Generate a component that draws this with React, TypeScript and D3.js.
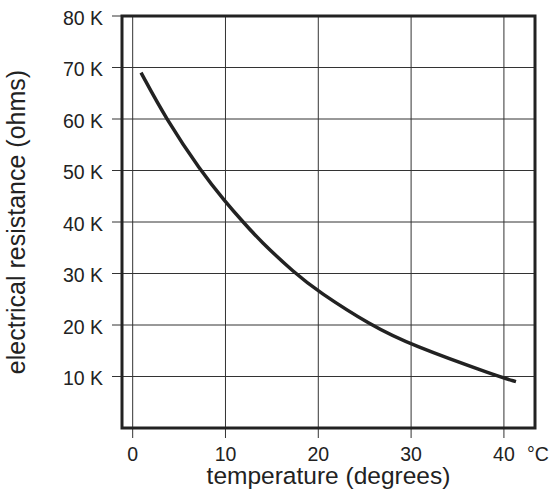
import React from 'react';
import * as d3 from 'd3';

// readings taken off the curve (temperature in °C, resistance in ohms)
const temps = [0.9, 3.6, 7.3, 10, 11.9, 13.7, 17.5, 20, 25.6, 30, 39.4, 41.3];
const ohms = [69000, 60000, 50000, 43900, 40000, 36400, 30000, 26500, 20000, 16100, 10000, 9000];

const xTicks = [0, 10, 20, 30, 40];
const yTicks = [10000, 20000, 30000, 40000, 50000, 60000, 70000, 80000];

const W = 553;
const H = 493;
const LEFT = 122;
const RIGHT = 535;
const TOP = 16;
const BOTTOM = 428;
const FONT = 'Arial, "Liberation Sans", Helvetica, sans-serif';
const INK = '#222';

const App = () => {
  const xScale = d3.scaleLinear().domain([-1.15, 43.35]).range([LEFT, RIGHT]);
  const yScale = d3.scaleLinear().domain([0, 80000]).range([BOTTOM, TOP]);

  const line = d3.line<number>()
    .x((d, i) => xScale(temps[i]))
    .y(d => yScale(d))
    .curve(d3.curveBasis);

  return (
    <svg width={W} height={H} style={{ position: 'absolute', left: 0, top: 0, background: '#fff' }}>
      <g>
        {yTicks.map(t => (
          <g key={'y' + t}>
            <line x1={LEFT - 10} x2={RIGHT} y1={yScale(t)} y2={yScale(t)} stroke="#333" strokeWidth={1} />
            <text x={103} y={yScale(t)} dy={8.5} textAnchor="end" fontFamily={FONT} fontSize={19.5} fill={INK}>
              {`${t / 1000} K`}
            </text>
          </g>
        ))}
        {xTicks.map(t => (
          <g key={'x' + t}>
            <line x1={xScale(t)} x2={xScale(t)} y1={TOP} y2={BOTTOM + 10} stroke="#333" strokeWidth={1} />
            <text x={xScale(t)} y={461} textAnchor="middle" fontFamily={FONT} fontSize={19.5} fill={INK}>
              {t}
            </text>
          </g>
        ))}
        <text x={527} y={461} fontFamily={FONT} fontSize={19.5} fill={INK}>°C</text>
      </g>
      <rect x={LEFT} y={TOP} width={RIGHT - LEFT} height={BOTTOM - TOP} fill="none" stroke={INK} strokeWidth={3} />
      <path d={line(ohms) || ''} fill="none" stroke={INK} strokeWidth={3.5} />
      <text x={(LEFT + RIGHT) / 2} y={484} textAnchor="middle" fontFamily={FONT} fontSize={24.5} fill={INK}>
        temperature (degrees)
      </text>
      <text
        transform={`translate(25,${(TOP + BOTTOM) / 2}) rotate(-90)`}
        textAnchor="middle"
        fontFamily={FONT}
        fontSize={25}
        fill={INK}
      >
        electrical resistance (ohms)
      </text>
    </svg>
  );
};

export default App;
